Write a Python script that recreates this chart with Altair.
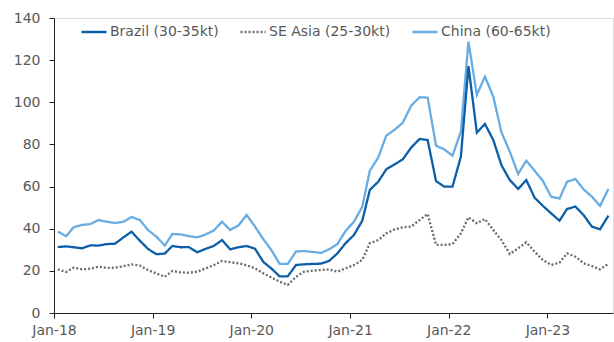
import altair as alt
import pandas as pd

# Monthly series, Jan-2018 .. Aug-2023
brazil = [31.3, 31.6, 31.2, 30.7, 32.1, 32.0, 32.7, 32.9, 35.9, 38.6, 34.3, 30.4,
          27.9, 28.2, 31.8, 31.2, 31.3, 28.8, 30.4, 31.8, 34.6, 30.2, 31.2, 31.8,
          30.5, 24.2, 21.2, 17.4, 17.4, 22.8, 23.1, 23.3, 23.4, 24.7, 28.3, 33.1,
          37.0, 43.8, 58.4, 62.3, 68.2, 70.6, 72.9, 78.5, 82.6, 82.1, 62.6, 60.0,
          60.0, 74.2, 117.2, 85.6, 89.7, 82.1, 70.2, 63.1, 58.9, 63.1, 54.7, 50.9,
          47.3, 43.8, 49.4, 50.5, 46.5, 41.0, 39.7, 46.2]
se_asia = [20.7, 19.5, 21.5, 20.7, 21.0, 22.0, 21.4, 21.5, 22.2, 23.1, 22.5, 20.4,
           18.8, 17.2, 19.9, 19.3, 19.1, 19.6, 21.1, 22.7, 24.7, 24.1, 23.6, 22.7,
           21.2, 18.8, 16.9, 14.9, 13.3, 17.2, 19.6, 20.1, 20.4, 20.7, 19.6, 21.2,
           22.7, 25.2, 33.1, 34.6, 37.8, 39.7, 40.7, 41.0, 44.1, 47.0, 32.3, 32.3,
           32.7, 37.8, 45.4, 42.6, 44.6, 39.4, 34.6, 28.0, 30.7, 33.5, 29.1, 25.2,
           22.8, 23.9, 28.3, 26.7, 23.6, 22.3, 20.7, 23.3]
china = [38.6, 36.5, 40.7, 41.8, 42.2, 44.1, 43.3, 42.7, 43.3, 45.6, 44.1, 39.4,
         36.2, 32.0, 37.5, 37.3, 36.5, 35.9, 37.2, 39.1, 43.3, 39.4, 41.6, 46.5,
         41.0, 35.0, 30.0, 23.3, 23.3, 29.2, 29.4, 29.0, 28.5, 30.2, 32.7, 38.9,
         43.3, 50.4, 67.5, 73.8, 84.2, 87.0, 90.3, 98.4, 102.4, 102.2, 79.4, 77.7,
         74.7, 86.1, 128.8, 103.5, 112.2, 102.7, 85.8, 76.6, 66.0, 72.3, 67.5, 62.8,
         55.2, 54.3, 62.3, 63.6, 58.7, 55.2, 50.8, 58.9]

series_names = ["Brazil (30-35kt)", "SE Asia (25-30kt)", "China (60-65kt)"]
series_colors = ["#0b5fa9", "#6b6b6b", "#67ace2"]
series_dash = [[1, 0], [2, 2], [1, 0]]

months = pd.date_range("2018-01-01", periods=len(brazil), freq="MS") + pd.Timedelta(days=14)

frames = []
for name, vals in [(series_names[2], china), (series_names[1], se_asia), (series_names[0], brazil)]:
    frames.append(pd.DataFrame({"date": months, "value": vals, "series": name}))
df = pd.concat(frames, ignore_index=True)
df["order"] = df["series"].map({series_names[2]: 0, series_names[1]: 1, series_names[0]: 2})

font = "DejaVu Sans"
text_color = "#595959"

year_ticks = [alt.DateTime(year=y, month=1, date=1) for y in range(2018, 2024)]

chart = alt.Chart(df).mark_line(strokeWidth=2.3).encode(
    x=alt.X(
        "date:T",
        scale=alt.Scale(domain=[alt.DateTime(year=2018, month=1, date=1),
                                alt.DateTime(year=2023, month=9, date=1)]),
        axis=alt.Axis(values=year_ticks, format="%b-%y", title=None, grid=False,
                      labelFlush=False, tickSize=5, labelPadding=5,
                      domainColor="#222", tickColor="#222",
                      labelColor=text_color, labelFont=font, labelFontSize=14),
    ),
    y=alt.Y(
        "value:Q",
        scale=alt.Scale(domain=[0, 140], nice=False),
        axis=alt.Axis(values=list(range(0, 141, 20)), title=None, grid=False,
                      labelFlush=False, tickSize=5, labelPadding=9,
                      domainColor="#222", tickColor="#222",
                      labelColor=text_color, labelFont=font, labelFontSize=14),
    ),
    color=alt.Color(
        "series:N",
        scale=alt.Scale(domain=series_names, range=series_colors),
        legend=alt.Legend(title=None, orient="none", legendX=26, legendY=0,
                          direction="horizontal", symbolType="stroke",
                          symbolSize=625, symbolStrokeWidth=2.5, labelOffset=2,
                          columnPadding=16, labelFont=font, labelFontSize=14,
                          labelColor=text_color),
    ),
    strokeDash=alt.StrokeDash(
        "series:N",
        scale=alt.Scale(domain=series_names, range=series_dash),
        legend=None,
    ),
    detail="series:N",
    order="order:Q",
).properties(
    width=559,
    height=295,
    autosize=alt.AutoSizeParams(type="none"),
    padding={"left": 54, "top": 18, "right": 1, "bottom": 29},
).configure_view(stroke=None).configure(background="white")

chart.save("out.html", embed_options={"renderer": "svg", "actions": False})
